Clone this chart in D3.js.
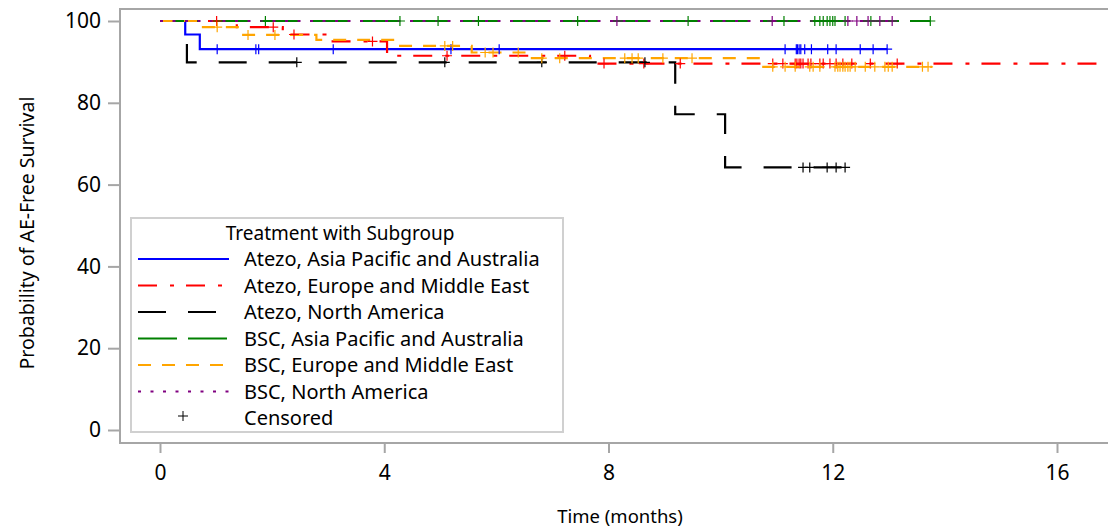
<!DOCTYPE html>
<html><head><meta charset="utf-8">
<script src="https://cdn.jsdelivr.net/npm/d3@7"></script>
<style>
body{margin:0;background:#fff}
svg{display:block}
text{font-family:"Noto Sans",sans-serif;fill:#000}
</style>
</head><body><svg id="chart" width="1108" height="528"></svg>
<script>
// ---------- data ----------
const groupNames = [
  "Atezo, Asia Pacific and Australia",
  "Atezo, Europe and Middle East",
  "Atezo, North America",
  "BSC, Asia Pacific and Australia",
  "BSC, Europe and Middle East",
  "BSC, North America"
];
const groupColors = ["#0000ff", "#ff0000", "#000000", "#008000", "#ffa500", "#800080"];
const groupDashes = ["none", "19,13,4,12", "28,22", "39,11", "13,11", "3,9.5"];

// step times (months) and survival (%) after each step
const atezoAPTimes = [0, 0.45, 0.71];
const atezoAPSurv = [100, 96.7, 93.1];
const atezoAPEnd = 12.97;
const atezoAPCensor = [1.02, 1.71, 1.76, 3.09, 5.19, 6.05, 11.15, 11.35, 11.37, 11.40, 11.43, 11.50, 11.62, 11.91, 12.06, 12.49, 12.72, 12.97];

const atezoEUTimes = [0, 1.37, 2.19, 3.0, 4.05, 7.67];
const atezoEUSurv = [100, 98.5, 96.7, 95.0, 91.5, 89.6];
const atezoEUEnd = 18.5;
const atezoEUCensor = [1.01, 2.02, 2.39, 3.79, 5.12, 7.22, 7.92, 8.63, 9.28, 10.93, 11.11, 11.33, 11.36, 11.40, 11.43, 11.47, 11.56, 11.61, 11.77, 11.83, 11.95, 12.06, 12.18, 12.34, 12.67, 13.15];

const atezoNATimes = [0, 0.48, 9.19, 10.08];
const atezoNASurv = [100, 89.9, 77.2, 64.2];
const atezoNAEnd = 12.22;
const atezoNACensor = [2.44, 5.08, 6.81, 8.65, 11.47, 11.59, 11.90, 12.06, 12.22];

const bscAPTimes = [0];
const bscAPSurv = [100];
const bscAPEnd = 13.74;
const bscAPCensor = [1.88, 4.28, 4.96, 5.68, 7.45, 9.42, 11.13, 11.68, 11.77, 11.83, 11.90, 11.95, 12.00, 12.04, 12.22, 12.68, 13.74];

const bscEUTimes = [0, 0.70, 1.44, 2.79, 4.19, 5.56, 6.56, 10.74];
const bscEUSurv = [100, 98.5, 96.6, 95.4, 93.9, 92.3, 90.9, 88.8];
const bscEUEnd = 13.77;
const bscEUCensor = [1.02, 1.57, 2.05, 5.08, 5.22, 5.80, 5.94, 6.39, 6.81, 7.13, 8.29, 8.42, 8.53, 8.97, 9.49, 10.93, 11.15, 11.33, 11.59, 11.65, 11.77, 12.04, 12.09, 12.13, 12.18, 12.22, 12.27, 12.31, 12.40, 12.58, 12.75, 12.93, 12.99, 13.06, 13.60, 13.70];

const bscNATimes = [0];
const bscNASurv = [100];
const bscNAEnd = 13.06;
const bscNACensor = [8.15, 10.92, 12.27, 12.43, 12.63, 12.84, 13.06];

const xTickValues = [0, 4, 8, 12, 16];
const yTickValues = [0, 20, 40, 60, 80, 100];
const legendTitle = "Treatment with Subgroup";
const censorLabel = "Censored";
const xTitle = "Time (months)";
const yTitle = "Probability of AE-Free Survival";

const series = [
  {times: atezoAPTimes, surv: atezoAPSurv, end: atezoAPEnd, censor: atezoAPCensor},
  {times: atezoEUTimes, surv: atezoEUSurv, end: atezoEUEnd, censor: atezoEUCensor},
  {times: atezoNATimes, surv: atezoNASurv, end: atezoNAEnd, censor: atezoNACensor},
  {times: bscAPTimes, surv: bscAPSurv, end: bscAPEnd, censor: bscAPCensor},
  {times: bscEUTimes, surv: bscEUSurv, end: bscEUEnd, censor: bscEUCensor},
  {times: bscNATimes, surv: bscNASurv, end: bscNAEnd, censor: bscNACensor}
].map((s, i) => ({...s, name: groupNames[i], color: groupColors[i], dash: groupDashes[i]}));

// ---------- layout ----------
const svg = d3.select("#chart");
const frame = {left: 120, top: 9, right: 1130, bottom: 443};
const x = d3.scaleLinear().domain([0, 16]).range([160, 1057]);
const y = d3.scaleLinear().domain([0, 100]).range([430, 21]);
const gridColor = "#a6a6a6";

svg.append("clipPath").attr("id", "plotClip")
  .append("rect").attr("x", frame.left + 1).attr("y", frame.top + 1)
  .attr("width", frame.right - frame.left - 2).attr("height", frame.bottom - frame.top - 2);

// axes
const yAxis = d3.axisLeft(y).tickValues(yTickValues).tickSize(12).tickPadding(7).tickFormat(d3.format("d"));
const gy = svg.append("g").attr("transform", `translate(${frame.left},0)`).call(yAxis);
const xAxis = d3.axisBottom(x).tickValues(xTickValues).tickSize(10).tickPadding(12).tickFormat(d3.format("d"));
const gx = svg.append("g").attr("transform", `translate(0,${frame.bottom})`).call(xAxis);
[gx, gy].forEach(g => {
  g.select(".domain").remove();
  g.selectAll(".tick line").attr("stroke", gridColor).attr("stroke-width", 2);
  g.selectAll(".tick text").style("font-family", '"Noto Sans",sans-serif').style("font-size", "21px").attr("fill", "#000");
});

// frame
svg.append("rect").attr("x", frame.left).attr("y", frame.top)
  .attr("width", frame.right - frame.left).attr("height", frame.bottom - frame.top)
  .attr("fill", "none").attr("stroke", gridColor).attr("stroke-width", 2);

// titles
svg.append("text").attr("x", 620).attr("y", 523).attr("text-anchor", "middle")
  .style("font-size", "18.5px").text(xTitle);
svg.append("text").attr("transform", "translate(34,233) rotate(-90)").attr("text-anchor", "middle")
  .style("font-size", "19.5px").text(yTitle);

// curves
const plot = svg.append("g").attr("clip-path", "url(#plotClip)");
const line = d3.line().x(d => x(d[0])).y(d => y(d[1])).curve(d3.curveStepAfter);
function survAt(s, t) {
  const i = d3.bisectRight(s.times, t) - 1;
  return s.surv[Math.max(0, i)];
}
series.forEach(s => {
  const pts = s.times.map((t, i) => [t, s.surv[i]]);
  pts.push([s.end, s.surv[s.surv.length - 1]]);
  plot.append("path").datum(pts).attr("d", line)
    .attr("fill", "none").attr("stroke", s.color).attr("stroke-width", 2.2)
    .attr("stroke-dasharray", s.dash === "none" ? null : s.dash);
});
// censor marks
const arm = 5;
series.forEach(s => {
  const g = plot.append("g");
  s.censor.forEach(t => {
    const cx = x(t), cy = y(survAt(s, t));
    g.append("path").attr("d", `M${cx - arm},${cy}H${cx + arm}M${cx},${cy - arm}V${cy + arm}`)
      .attr("stroke", s.color).attr("stroke-width", 1.2).attr("fill", "none");
  });
});

// legend
const lg = svg.append("g");
lg.append("rect").attr("x", 131).attr("y", 218).attr("width", 432).attr("height", 214)
  .attr("fill", "#fff").attr("stroke", "#d0d0d0").attr("stroke-width", 2);
lg.append("text").attr("x", 340).attr("y", 239.5).attr("text-anchor", "middle")
  .style("font-size", "19px").text(legendTitle);
const rowY = d3.scaleLinear().domain([0, 6]).range([259, 418]);
series.forEach((s, i) => {
  const yy = rowY(i);
  lg.append("line").attr("x1", 138).attr("x2", 229).attr("y1", yy).attr("y2", yy)
    .attr("stroke", s.color).attr("stroke-width", 2.2)
    .attr("stroke-dasharray", s.dash === "none" ? null : s.dash);
  lg.append("text").attr("x", 244).attr("y", yy + 7).style("font-size", "20px").text(s.name);
});
const cy7 = rowY(6);
lg.append("path").attr("d", `M${183 - arm},${cy7 - 2}H${183 + arm}M183,${cy7 - 2 - arm}V${cy7 - 2 + arm}`)
  .attr("stroke", "#000").attr("stroke-width", 1).attr("fill", "none");
lg.append("text").attr("x", 244).attr("y", cy7 + 7).style("font-size", "20px").text(censorLabel);
</script>
</body></html>
